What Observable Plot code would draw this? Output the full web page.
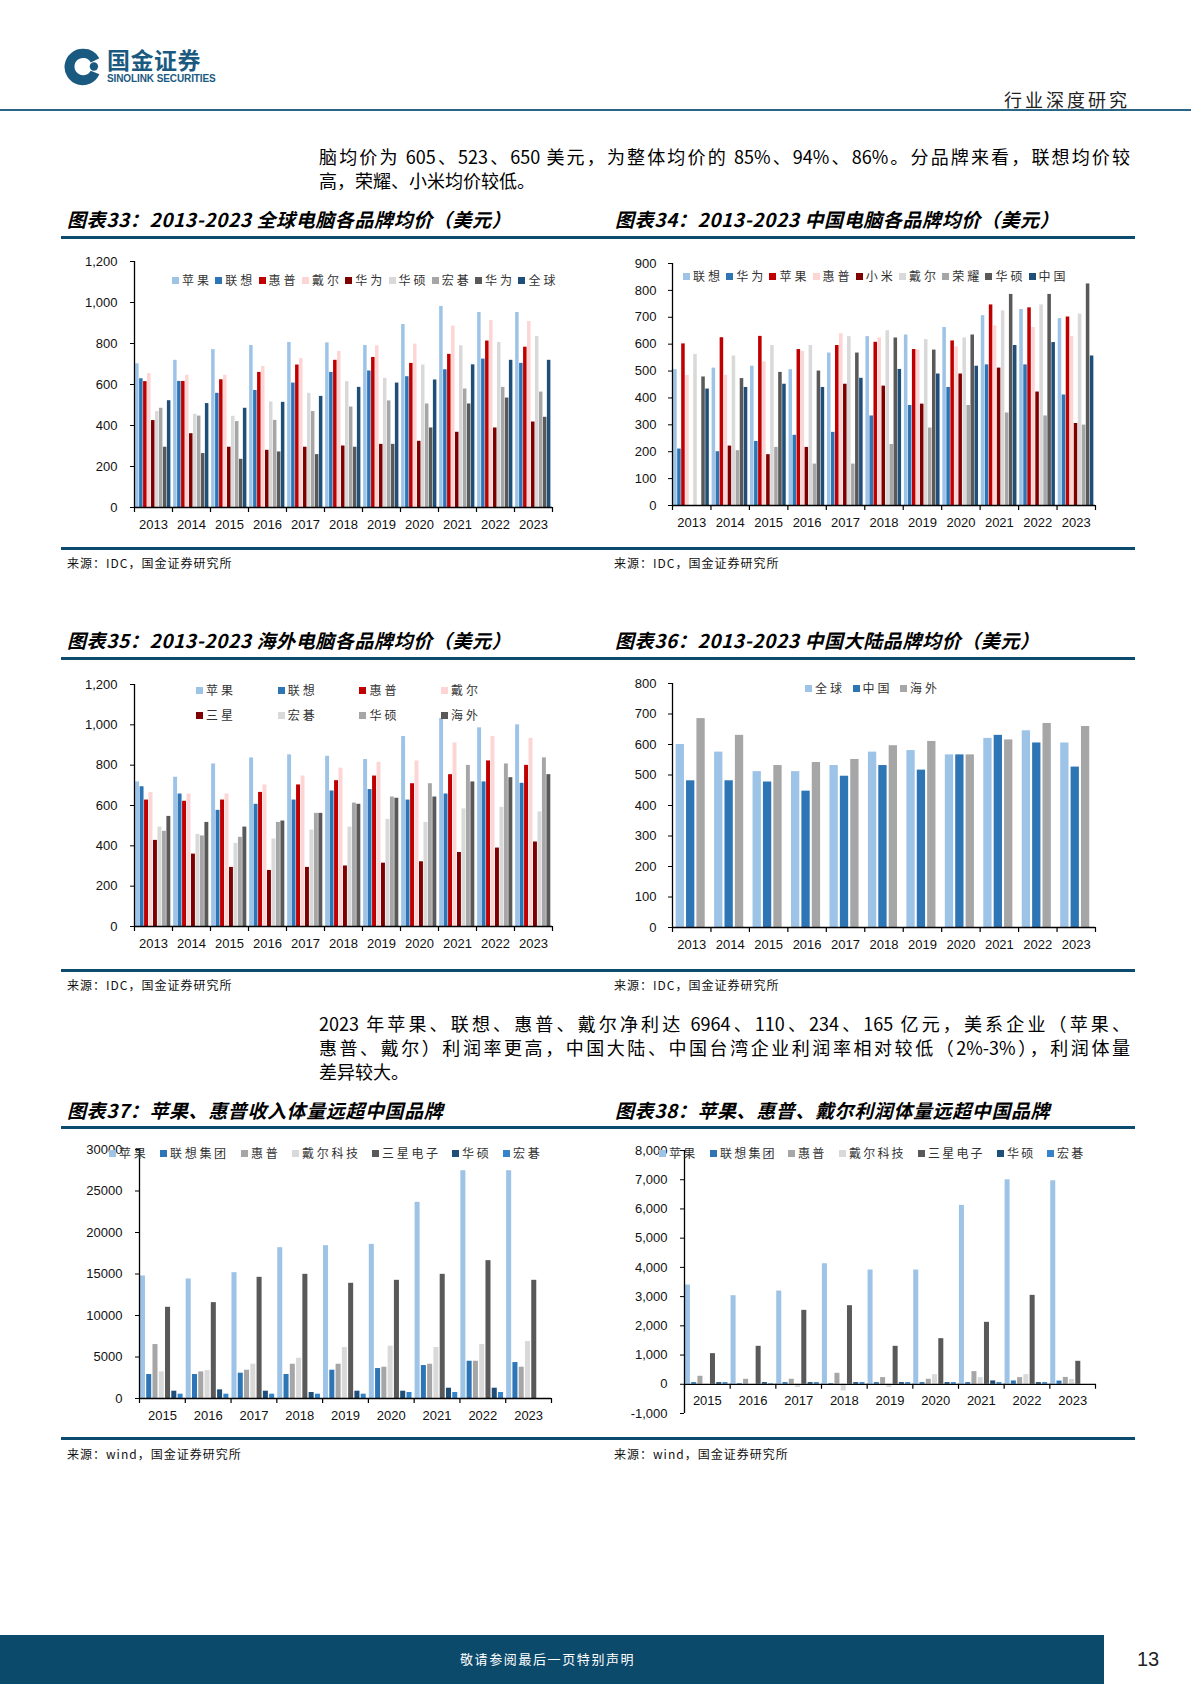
<!DOCTYPE html>
<html><head><meta charset="utf-8">
<script src="https://cdn.jsdelivr.net/npm/d3@7"></script>
<script src="https://cdn.jsdelivr.net/npm/@observablehq/plot@0.6"></script>
<style>
html,body{margin:0;padding:0;background:#fff;overflow:hidden;}
#page{position:relative;width:1191px;height:1684px;font-family:"Noto Sans CJK SC","Noto Sans",sans-serif;color:#000;}
#page > *{position:absolute;}
.title{font-weight:700;font-style:italic;font-size:19px;line-height:24px;white-space:nowrap;letter-spacing:0.6px;}
.rule{height:3px;background:#0d4b6e;left:61px;width:1074px;}
.src{font-size:12px;line-height:16px;letter-spacing:1px;color:#111;white-space:nowrap;}
.line{font-size:18px;line-height:24px;left:319px;width:811px;text-align:justify;text-align-last:justify;}
.lastline{font-size:18px;line-height:24px;left:319px;white-space:nowrap;}
.legend{font-size:12px;line-height:16px;color:#333;white-space:nowrap;}
.li{position:absolute;top:0;display:flex;align-items:center;height:16px;}
.sw{width:7px;height:7px;margin-right:3px;flex:none;}
</style></head>
<body><div id="page"></div>
<script>
// ---------- data ----------
const years13 = ["2013","2014","2015","2016","2017","2018","2019","2020","2021","2022","2023"];
const years15 = ["2015","2016","2017","2018","2019","2020","2021","2022","2023"];

// 图表33 全球
const g33Labels = ["苹果","联想","惠普","戴尔","华为","华硕","宏碁","华为","全球"];
const g33Apple  = [701,718,770,790,805,803,790,893,981,951,951];
const g33Lenovo = [628,615,557,571,607,659,666,638,672,724,703];
const g33HP     = [614,615,623,659,695,718,732,703,747,812,782];
const g33Dell   = [653,645,645,688,726,761,789,797,885,912,907];
const g33HuaweiA= [424,360,294,279,294,300,308,323,367,388,417];
const g33Asus   = [468,455,445,515,557,614,630,695,789,805,834];
const g33Acer   = [484,446,419,425,468,490,520,505,578,586,563];
const g33HuaweiB= [294,263,235,271,258,294,308,388,505,534,440];
const g33Global = [521,507,484,513,542,586,607,622,696,718,718];

// 图表34 中国
const g34Labels = ["联想","华为","苹果","惠普","小米","戴尔","荣耀","华硕","中国"];
const g34Lenovo = [505,511,518,505,567,628,634,662,706,729,695];
const g34Huawei = [210,200,238,261,272,333,372,439,523,523,411];
const g34Apple  = [601,624,629,580,595,607,580,612,746,735,701];
const g34HP     = [484,484,534,573,639,623,578,590,668,662,628];
const g34Xiaomi = [null,221,189,216,451,444,377,489,511,422,305];
const g34Dell   = [562,556,595,595,628,650,617,623,724,746,712];
const g34Honor  = [null,204,216,154,154,227,288,372,344,333,299];
const g34Asus   = [478,472,495,500,567,623,578,634,785,785,824];
const g34China  = [433,439,451,439,473,506,489,518,595,606,556];

// 图表35 海外
const g35Labels = ["苹果","联想","惠普","戴尔","三星","宏碁","华硕","海外"];
const g35Apple  = [717,740,806,836,851,844,828,942,1031,985,1000];
const g35Lenovo = [693,657,576,606,627,672,679,627,657,717,710];
const g35HP     = [627,621,627,665,702,723,746,708,753,821,799];
const g35Dell   = [665,657,657,702,746,785,814,821,910,942,933];
const g35Samsung= [427,359,293,278,293,300,314,321,367,389,419];
const g35Acer   = [493,457,412,434,478,493,531,516,583,591,568];
const g35Asus   = [472,449,442,516,561,612,642,708,799,806,836];
const g35Oversea= [546,516,493,523,561,606,636,642,717,738,753];

// 图表36 中国大陆品牌
const g36Labels = ["全球","中国","海外"];
const g36Global = [600,575,511,511,531,575,580,566,620,645,605];
const g36China  = [481,481,477,447,496,531,516,566,630,605,526];
const g36Oversea= [685,630,531,541,551,596,610,566,615,669,659];

// 图表37 收入
const g37Labels = ["苹果","联想集团","惠普","戴尔科技","三星电子","华硕","宏碁"];
const g37Apple  = [14760,14400,15160,18170,18410,18570,23630,27440,27440];
const g37Lenovo = [2890,2890,3050,2890,3410,3610,3970,4490,4330];
const g37HP     = [6500,3210,3410,4130,4130,3770,4130,4490,3770];
const g37Dell   = [3210,3370,4130,4850,6140,6300,6140,6500,6860];
const g37Samsung= [10990,11550,14600,14960,13880,14240,14960,16610,14240];
const g37Asus   = [880,1040,880,720,880,880,1240,1240,null];
const g37Acer   = [520,520,520,520,520,720,720,720,null];

// 图表38 利润
const g38Labels = ["苹果","联想集团","惠普","戴尔科技","三星电子","华硕","宏碁"];
const g38Apple  = [3396,3031,3191,4125,3909,3909,6120,6997,6964];
const g38Lenovo = [57,23,57,23,57,57,57,114,110];
const g38HP     = [274,171,171,376,228,171,433,228,234];
const g38Dell   = [-34,-34,-114,-228,-114,330,228,330,165];
const g38Samsung= [1048,1299,2530,2689,1299,1561,2120,3043,786];
const g38Asus   = [57,57,57,57,57,57,114,57,null];
const g38Acer   = [57,20,57,57,57,57,57,57,null];

const ticks1200 = [0,200,400,600,800,1000,1200];
const ticks900 = [0,100,200,300,400,500,600,700,800,900];
const ticks800 = [0,100,200,300,400,500,600,700,800];
const ticks30000 = [0,5000,10000,15000,20000,25000,30000];
const ticks8000 = [-1000,0,1000,2000,3000,4000,5000,6000,7000,8000];

// ---------- colours ----------
const C = {lblue:"#9dc3e6", mblue:"#2e75b6", red:"#c00000", pink:"#fdd5d5", dred:"#7f0000",
  lgray:"#d9d9d9", gray:"#a6a6a6", dgray:"#595959", navy:"#1f4e79", blue2:"#3584c9"};

const fmtComma = d3.formatLocale({decimal: ".", thousands: ",", grouping: [3], currency: ["", ""], minus: "-"}).format(",");

// ---------- page helpers ----------
const page = document.getElementById("page");
function add(html, cls, style){const d=document.createElement("div"); if(cls) d.className=cls; d.innerHTML=html; Object.assign(d.style, style||{}); page.appendChild(d); return d;}

function chart(o){
  const G = o.years.length, n = o.series.length;
  const keys = o.series.map((_, s) => "s" + s);
  const rows = [];
  o.years.forEach((yr, i) => o.series.forEach((arr, s) => {
    const v = arr[i]; if (v != null) rows.push({i, s, key: keys[s], value: v});
  }));
  const step = (1 - 2*o.pad) / n;
  const ph = o.height - o.mT - o.mB;
  const k = (o.yDomain[1] - o.yDomain[0]) / ph;
  const svg = Plot.plot({
    width: o.width, height: o.height,
    marginLeft: o.mL, marginRight: o.mR, marginTop: o.mT, marginBottom: o.mB,
    style: {fontFamily: "'Liberation Sans', Arial, sans-serif", fontSize: "13px", background: "transparent", color: "#111", overflow: "visible"},
    x: {domain: [0, G], axis: null, label: null},
    y: {domain: o.yDomain, axis: null, label: null},
    color: {domain: keys, range: o.colors},
    marks: [
      Plot.rect(rows, {x1: d => d.i + o.pad + d.s*step, x2: d => d.i + o.pad + d.s*step + step*o.frac, y1: () => 0, y2: "value", fill: "key"}),
      Plot.ruleY([0], {stroke: "#000", strokeWidth: 1.3}),
      Plot.ruleX([0], {stroke: "#000", strokeWidth: 1.3}),
      Plot.axisY({ticks: o.yTicks, tickFormat: o.yFmt, tickSize: 4, tickPadding: o.tp || 13, stroke: "#000", fill: "#111", label: null}),
      Plot.ruleX(d3.range(G + 1), {x: d => d, y1: () => 0, y2: () => -5*k, stroke: "#000", strokeWidth: 1.2}),
      Plot.text(o.years, {x: (d, i) => i + 0.5, y: () => 0, dy: 17, text: d => d, fill: "#111", fontSize: 13})
    ]
  });
  svg.style.position = "absolute";
  const wrap = add("", null, {left: o.left + "px", top: o.top + "px", width: o.width + "px", height: o.height + "px"});
  wrap.appendChild(svg);
}

function legend(o){
  const box = add("", "legend", {left: o.left + "px", top: (o.top - 8) + "px", width: "600px", height: "40px", letterSpacing: (o.ls || 3) + "px"});
  o.labels.forEach((lab, i) => {
    const it = document.createElement("div");
    it.className = "li";
    const x = o.xs ? o.xs[i] - o.left : (o.cols ? (i % o.cols) * o.step : i * o.step);
    const y = o.cols ? Math.floor(i / o.cols) * o.rowStep : 0;
    it.style.left = x + "px"; it.style.top = y + "px";
    it.innerHTML = `<span class="sw" style="background:${o.colors[i]}"></span><span>${lab}</span>`;
    box.appendChild(it);
  });
}

// ---------- header ----------
add(`<svg width="40" height="40" viewBox="0 0 44 44"><path d="M22 2 A20 20 0 1 0 40 30 L30.5 26 A9.5 9.5 0 1 1 30.5 17 L40 12.5 A20 20 0 0 0 22 2 Z" fill="#1b5a80"/><circle cx="34" cy="21.5" r="4.6" fill="#1b5a80"/></svg>`, null, {left: "63px", top: "47px"});
add("国金证券", null, {left: "107px", top: "45px", fontSize: "23px", fontWeight: "700", color: "#1b5a80", lineHeight: "28px", letterSpacing: "0.5px"});
add("SINOLINK SECURITIES", null, {left: "107px", top: "73px", fontSize: "10px", fontWeight: "700", color: "#1b5a80", fontFamily: "'Liberation Sans', Arial, sans-serif", lineHeight: "12px", letterSpacing: "-0.1px"});
add("行业深度研究", null, {right: "61px", top: "87px", fontSize: "18px", lineHeight: "24px", letterSpacing: "3px", color: "#222"});
add("", null, {left: "0px", top: "109px", width: "1191px", height: "2px", background: "#2a6585"});

// ---------- paragraph 1 ----------
add("脑均价为 605、523、650 美元，为整体均价的 85%、94%、86%。分品牌来看，联想均价较", "line", {top: "144px"});
add("高，荣耀、小米均价较低。", "lastline", {top: "168px"});

// ---------- titles / rules row 1 ----------
add("图表33：2013-2023 全球电脑各品牌均价（美元）", "title", {left: "67px", top: "207px"});
add("图表34：2013-2023 中国电脑各品牌均价（美元）", "title", {left: "615px", top: "207px"});
add("", "rule", {top: "236px"});

chart({years: years13, series: [g33Apple,g33Lenovo,g33HP,g33Dell,g33HuaweiA,g33Asus,g33Acer,g33HuaweiB,g33Global],
  colors: [C.lblue,C.mblue,C.red,C.pink,C.dred,C.lgray,C.gray,C.dgray,C.navy],
  yDomain: [0,1200], yTicks: ticks1200, yFmt: fmtComma,
  left: 60, top: 240, width: 520, height: 300, mL: 74, mR: 28, mT: 21, mB: 33, pad: 0.03, frac: 0.88});
legend({left: 172, top: 280, step: 43.3, labels: g33Labels, colors: [C.lblue,C.mblue,C.red,C.pink,C.dred,C.lgray,C.gray,C.dgray,C.navy]});

chart({years: years13, series: [g34Lenovo,g34Huawei,g34Apple,g34HP,g34Xiaomi,g34Dell,g34Honor,g34Asus,g34China],
  colors: [C.lblue,C.mblue,C.red,C.pink,C.dred,C.lgray,C.gray,C.dgray,C.navy],
  yDomain: [0,900], yTicks: ticks900, yFmt: d3.format("d"),
  left: 610, top: 240, width: 530, height: 300, mL: 62, mR: 45, mT: 23, mB: 35, pad: 0.03, frac: 0.88, tp: 12});
legend({left: 683, top: 276, step: 43.2, labels: g34Labels, colors: [C.lblue,C.mblue,C.red,C.pink,C.dred,C.lgray,C.gray,C.dgray,C.navy]});

add("", "rule", {top: "547px"});
add("来源：IDC，国金证券研究所", "src", {left: "67px", top: "555px"});
add("来源：IDC，国金证券研究所", "src", {left: "614px", top: "555px"});

// ---------- row 2 ----------
add("图表35：2013-2023 海外电脑各品牌均价（美元）", "title", {left: "67px", top: "628px"});
add("图表36：2013-2023 中国大陆品牌均价（美元）", "title", {left: "615px", top: "628px"});
add("", "rule", {top: "657px"});

chart({years: years13, series: [g35Apple,g35Lenovo,g35HP,g35Dell,g35Samsung,g35Acer,g35Asus,g35Oversea],
  colors: [C.lblue,C.mblue,C.red,C.pink,C.dred,C.lgray,C.gray,C.dgray],
  yDomain: [0,1200], yTicks: ticks1200, yFmt: fmtComma,
  left: 60, top: 665, width: 520, height: 300, mL: 74, mR: 28, mT: 19, mB: 39, pad: 0.03, frac: 0.88});
legend({left: 196, top: 690, step: 81.7, cols: 4, rowStep: 25, labels: g35Labels, colors: [C.lblue,C.mblue,C.red,C.pink,C.dred,C.lgray,C.gray,C.dgray]});

chart({years: years13, series: [g36Global,g36China,g36Oversea],
  colors: [C.lblue,C.mblue,C.gray],
  yDomain: [0,800], yTicks: ticks800, yFmt: d3.format("d"),
  left: 610, top: 665, width: 530, height: 300, mL: 62, mR: 45, mT: 18, mB: 38, pad: 0.095, frac: 0.8, tp: 12});
legend({left: 805, top: 688, step: 47.5, labels: g36Labels, colors: [C.lblue,C.mblue,C.gray]});

add("", "rule", {top: "969px"});
add("来源：IDC，国金证券研究所", "src", {left: "67px", top: "977px"});
add("来源：IDC，国金证券研究所", "src", {left: "614px", top: "977px"});

// ---------- paragraph 2 ----------
add("2023 年苹果、联想、惠普、戴尔净利达 6964、110、234、165 亿元，美系企业（苹果、", "line", {top: "1011px"});
add("惠普、戴尔）利润率更高，中国大陆、中国台湾企业利润率相对较低（2%-3%），利润体量", "line", {top: "1035px"});
add("差异较大。", "lastline", {top: "1059px"});

// ---------- row 3 ----------
add("图表37：苹果、惠普收入体量远超中国品牌", "title", {left: "67px", top: "1098px"});
add("图表38：苹果、惠普、戴尔利润体量远超中国品牌", "title", {left: "615px", top: "1098px"});
add("", "rule", {top: "1126px"});

const c37 = [C.lblue,C.mblue,C.gray,C.lgray,C.dgray,C.navy,C.blue2];
chart({years: years15, series: [g37Apple,g37Lenovo,g37HP,g37Dell,g37Samsung,g37Asus,g37Acer],
  colors: c37, yDomain: [0,30000], yTicks: ticks30000, yFmt: d3.format("d"),
  left: 60, top: 1135, width: 520, height: 300, mL: 79, mR: 29, mT: 14, mB: 37, pad: 0.02, frac: 0.8, tp: 13});
legend({left: 109, top: 1153, xs: [109,160,241,292,372,452,503], ls: 2.7, labels: g37Labels, colors: c37});

chart({years: years15, series: [g38Apple,g38Lenovo,g38HP,g38Dell,g38Samsung,g38Asus,g38Acer],
  colors: c37, yDomain: [-1000,8000], yTicks: ticks8000, yFmt: fmtComma,
  left: 610, top: 1135, width: 530, height: 300, mL: 74, mR: 45, mT: 15, mB: 22, pad: 0.02, frac: 0.8, tp: 13});
legend({left: 659, top: 1153, xs: [659,710,788,839,918,997,1047], ls: 2.2, labels: g38Labels, colors: c37});

add("", "rule", {top: "1437px"});
add("来源：wind，国金证券研究所", "src", {left: "67px", top: "1446px"});
add("来源：wind，国金证券研究所", "src", {left: "614px", top: "1446px"});

// ---------- footer ----------
add("", null, {left: "0px", top: "1635px", width: "1104px", height: "49px", background: "#0c4a6c"});
add("敬请参阅最后一页特别声明", null, {left: "460px", top: "1650px", fontSize: "13px", lineHeight: "18px", letterSpacing: "1.6px", color: "#fff"});
add("13", null, {left: "1137px", top: "1646px", fontSize: "20px", lineHeight: "26px", color: "#222", fontFamily: "'Liberation Sans', Arial, sans-serif"});
</script></body></html>
